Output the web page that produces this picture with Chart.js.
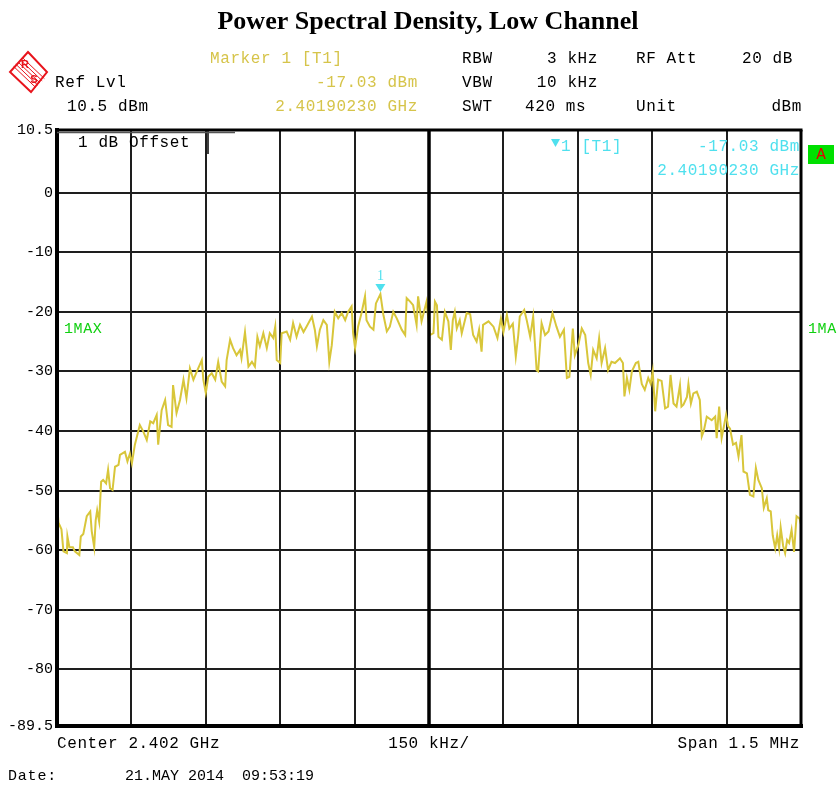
<!DOCTYPE html>
<html>
<head>
<meta charset="utf-8">
<script src="https://cdn.jsdelivr.net/npm/chart.js@4.4.1/dist/chart.umd.min.js"></script>
<style>
  html, body { margin: 0; padding: 0; background: #ffffff; }
  #wrap { width: 837px; height: 787px; position: relative; }
  canvas { display: block; }
</style>
</head>
<body>
<div id="wrap"><canvas id="c" width="837" height="787"></canvas></div>
<script>
// ---- data ----
// frequency offset from centre (kHz), span 1.5 MHz
const freqKHz = [
  -750,-747,-741,-737,-730,-729,-725,-718,-714,-705,-702,-697,-690,-683,-680,-675,-672,-669,-665,-661,
  -657,-651,-647,-643,-638,-633,-626,-623,-613,-608,-603,-599,-593,-583,-576,-569,-562,-556,-549,-546,
  -539,-532,-526,-519,-516,-509,-502,-495,-489,-482,-475,-468,-458,-455,-450,-445,-438,-431,-425,-418,
  -411,-408,-401,-395,-388,-381,-378,-371,-364,-357,-351,-346,-341,-334,-327,-321,-314,-310,-307,-300,
  -297,-287,-280,-274,-267,-260,-253,-247,-236,-230,-226,-220,-213,-206,-201,-196,-190,-183,-176,-169,
  -163,-156,-153,-149,-143,-136,-129,-126,-119,-112,-107,-98,-92,-85,-79,-72,-65,-55,-48,-45,
  -38,-32,-25,-22,-15,-5,2,9,12,16,19,26,32,39,44,48,52,56,62,66,
  76,83,89,96,101,106,109,120,130,138,145,150,157,162,169,175,180,183,192,197,
  204,210,217,220,227,234,241,249,257,264,272,278,283,290,294,301,308,315,321,326,
  331,338,343,348,355,361,368,375,385,391,394,399,404,409,417,422,429,435,442,447,
  451,456,462,469,476,482,487,493,499,506,509,513,520,523,528,533,540,546,550,554,
  560,570,577,580,585,590,599,603,607,613,619,624,630,634,641,647,654,659,664,671,
  675,681,684,689,693,698,702,706,709,714,718,722,726,731,736,741,747,750
];
// trace level (dBm), 1MAX trace
const levelDBm = [
  -52,-55.4,-56.5,-60.2,-60.5,-57.7,-59.5,-59.5,-60.2,-60.8,-57.7,-57.3,-54.3,-53.5,-56.8,-59.5,-55,-53.3,-55.2,-48.5,
  -48.2,-48.8,-46.5,-49.6,-49.9,-46,-45.7,-44,-43.5,-45.1,-43.8,-45.4,-42.3,-39,-40.1,-41.5,-38.4,-38.7,-37.3,-42.3,
  -36.5,-34.8,-39,-39.3,-32.3,-37,-34.8,-31.4,-34.5,-29.5,-31.4,-30,-28.1,-31.4,-33.6,-30.9,-30.3,-31.4,-28.4,-31.7,
  -32.5,-28.1,-24.7,-26.1,-27.3,-26.4,-27.8,-23.4,-29.2,-28.4,-29.2,-24.2,-25.8,-23.6,-26.1,-23.6,-24.4,-22.5,-28.1,-28.6,
  -23.6,-23.3,-24.7,-21.9,-24.2,-22.2,-23.4,-22.5,-20.8,-23.1,-25.8,-23,-21.4,-22.2,-28.4,-25.6,-20,-21.1,-20.2,-21.4,
  -20,-19.1,-23.6,-26.1,-22.5,-20.2,-17.4,-21.4,-22.5,-23,-18.6,-17.03,-20.5,-23.3,-22.5,-20,-21.1,-23,-23.9,-17.7,
  -18.3,-18.9,-22.2,-17.4,-21.6,-18.3,-23.9,-23.6,-18.3,-18.9,-24.2,-24.7,-20,-21.6,-26.4,-21.4,-20,-22.8,-21.4,-23.6,
  -20.2,-20.4,-23.9,-25,-23,-26.7,-22.2,-21.6,-22.5,-24.4,-21.1,-23.4,-20.5,-22.8,-22,-27.5,-23.9,-20.8,-19.7,-21.4,
  -24.2,-20.8,-29.8,-30,-21.9,-23.9,-23.3,-20.2,-22.5,-24.2,-23,-31.1,-30.9,-22.8,-27.3,-25.6,-22.8,-23.9,-28.6,-30.6,
  -26.4,-27.8,-24.4,-28.6,-26.1,-29.8,-28.4,-28.6,-27.8,-28.6,-34.2,-31.1,-33.1,-30,-28.6,-28.4,-32.1,-33.1,-31.1,-32.1,
  -30,-36.7,-31.4,-31.6,-36.2,-35.9,-30.6,-35.4,-35.9,-32.3,-35.9,-35.6,-34.3,-32.1,-35.4,-33.7,-33.4,-34.8,-40.9,-40,
  -37.6,-38.2,-37.6,-41.2,-35.9,-41.2,-37.3,-39.2,-39.6,-42.3,-42,-44.3,-40.7,-46.8,-47.1,-50.7,-51,-46.2,-48.2,-49.6,
  -52.9,-51.3,-53.3,-53.5,-57.5,-59.7,-57.5,-59.7,-56.2,-59.3,-60.5,-58.3,-58.8,-56.6,-60.3,-54.3,-54.7,-55.7
];
const yTickValues = [10.5, 0, -10, -20, -30, -40, -50, -60, -70, -80, -89.5];
const xTickValues = [-750, -600, -450, -300, -150, 0, 150, 300, 450, 600, 750];
const markerFreqKHz = -98;      // 2.40190230 GHz
const markerLevel = -17.03;     // dBm

const MONO = "'Liberation Mono', 'DejaVu Sans Mono', monospace";
const YELLOW = '#d6c44a';
const CYAN = '#4fe0ee';
const GREEN = '#10d010';

function txt(ctx, s, x, y, align, color, size, spacing) {
  ctx.save();
  ctx.font = (size || 16) + 'px ' + MONO;
  ctx.letterSpacing = (spacing === undefined ? 0.6 : spacing) + 'px';
  ctx.fillStyle = color || '#000';
  ctx.textAlign = align || 'left';
  ctx.textBaseline = 'middle';
  ctx.fillText(s, x, y);
  ctx.restore();
}

const decorPlugin = {
  id: 'decor',
  afterDatasetsDraw(chart) {
    const ctx = chart.ctx;
    const a = chart.chartArea;
    const xs = chart.scales.x, ys = chart.scales.y;
    ctx.save();
    // centre line (thick)
    ctx.strokeStyle = '#000';
    ctx.lineWidth = 3.5;
    const cx = xs.getPixelForValue(0);
    ctx.beginPath(); ctx.moveTo(cx, a.top); ctx.lineTo(cx, a.bottom); ctx.stroke();
    // borders
    ctx.lineWidth = 4;
    ctx.beginPath(); ctx.moveTo(a.left, a.top - 2); ctx.lineTo(a.left, a.bottom + 2); ctx.stroke();
    ctx.beginPath(); ctx.moveTo(a.left - 2, a.bottom); ctx.lineTo(a.right + 2, a.bottom); ctx.stroke();
    ctx.lineWidth = 3;
    ctx.beginPath(); ctx.moveTo(a.left, a.top); ctx.lineTo(a.right + 1.5, a.top); ctx.stroke();
    ctx.beginPath(); ctx.moveTo(a.right, a.top); ctx.lineTo(a.right, a.bottom); ctx.stroke();
    // "1 dB Offset" box edge
    ctx.lineWidth = 1.5;
    ctx.strokeStyle = '#000';
    ctx.beginPath(); ctx.moveTo(208, a.top); ctx.lineTo(208, a.top + 24); ctx.stroke();
    ctx.strokeStyle = '#555';
    ctx.lineWidth = 1.5;
    ctx.beginPath(); ctx.moveTo(a.left, a.top + 2.5); ctx.lineTo(235, a.top + 2.5); ctx.stroke();
    ctx.restore();

    // marker triangle + label
    const mx = xs.getPixelForValue(markerFreqKHz);
    const my = ys.getPixelForValue(markerLevel);
    ctx.save();
    ctx.fillStyle = CYAN;
    ctx.beginPath();
    ctx.moveTo(mx - 5, my - 10); ctx.lineTo(mx + 5, my - 10); ctx.lineTo(mx, my - 2); ctx.closePath();
    ctx.fill();
    ctx.font = "14px 'Liberation Serif', serif";
    ctx.textAlign = 'center'; ctx.textBaseline = 'middle';
    ctx.fillText('1', mx, my - 18);
    ctx.restore();

    // in-plot texts
    txt(ctx, '1 dB Offset', 78, 143, 'left', '#000', 16);
    ctx.save();
    ctx.fillStyle = CYAN;
    ctx.beginPath(); ctx.moveTo(551, 139); ctx.lineTo(560, 139); ctx.lineTo(555.5, 147); ctx.closePath(); ctx.fill();
    ctx.restore();
    txt(ctx, '1 [T1]', 561, 147, 'left', CYAN, 16);
    txt(ctx, '-17.03 dBm', 800, 147, 'right', CYAN, 16);
    txt(ctx, '2.40190230 GHz', 800, 171, 'right', CYAN, 16);
    txt(ctx, '1MAX', 64, 329, 'left', GREEN, 15);
  },
  afterDraw(chart) {
    const ctx = chart.ctx;
    // title
    ctx.save();
    ctx.font = "bold 26px 'Liberation Serif', 'Times New Roman', serif";
    ctx.fillStyle = '#000';
    ctx.textAlign = 'center'; ctx.textBaseline = 'middle';
    ctx.fillText('Power Spectral Density, Low Channel', 428, 22);
    ctx.restore();

    // header
    txt(ctx, 'Marker 1 [T1]', 210, 59, 'left', YELLOW);
    txt(ctx, 'Ref Lvl', 55, 83, 'left', '#000');
    txt(ctx, '-17.03 dBm', 418, 83, 'right', YELLOW);
    txt(ctx, '10.5 dBm', 67, 107, 'left', '#000');
    txt(ctx, '2.40190230 GHz', 418, 107, 'right', YELLOW);
    txt(ctx, 'RBW', 462, 59, 'left', '#000');
    txt(ctx, '3 kHz', 598, 59, 'right', '#000');
    txt(ctx, 'RF Att', 636, 59, 'left', '#000');
    txt(ctx, '20 dB', 793, 59, 'right', '#000');
    txt(ctx, 'VBW', 462, 83, 'left', '#000');
    txt(ctx, '10 kHz', 598, 83, 'right', '#000');
    txt(ctx, 'SWT', 462, 107, 'left', '#000');
    txt(ctx, '420 ms', 525, 107, 'left', '#000');
    txt(ctx, 'Unit', 636, 107, 'left', '#000');
    txt(ctx, 'dBm', 802, 107, 'right', '#000');

    // right side trace label + "A" box
    txt(ctx, '1MA', 808, 329, 'left', GREEN, 15);
    ctx.save();
    ctx.fillStyle = '#00e000';
    ctx.fillRect(808, 145, 26, 19);
    ctx.restore();
    txt(ctx, 'A', 821, 155, 'center', '#e00000', 16, 0);

    // bottom
    txt(ctx, 'Center 2.402 GHz', 57, 744, 'left', '#000');
    txt(ctx, '150 kHz/', 429, 744, 'center', '#000');
    txt(ctx, 'Span 1.5 MHz', 800, 744, 'right', '#000');
    txt(ctx, 'Date:', 8, 776, 'left', '#000', 15, 0.8);
    txt(ctx, '21.MAY 2014  09:53:19', 125, 776, 'left', '#000', 15, 0);

    // R&S logo
    ctx.save();
    ctx.strokeStyle = '#e8141c';
    ctx.fillStyle = '#e8141c';
    ctx.lineWidth = 2;
    ctx.beginPath();
    ctx.moveTo(28, 52); ctx.lineTo(47, 72); ctx.lineTo(31, 92); ctx.lineTo(10, 72); ctx.closePath();
    ctx.stroke();
    ctx.lineWidth = 1;
    for (let k = -2; k <= 2; k++) {
      const o = k * 2.2;
      ctx.beginPath(); ctx.moveTo(18 + o, 62 - o); ctx.lineTo(40 + o, 83 - o); ctx.stroke();
    }
    ctx.font = "bold 11px 'Liberation Sans', sans-serif";
    ctx.textAlign = 'center'; ctx.textBaseline = 'middle';
    ctx.fillText('R', 25, 65);
    ctx.fillText('S', 34, 80);
    ctx.restore();
  }
};

const ctx = document.getElementById('c').getContext('2d');
new Chart(ctx, {
  type: 'line',
  data: {
    datasets: [{
      label: '1MAX',
      data: freqKHz.map((f, i) => ({ x: f, y: levelDBm[i] })),
      borderColor: '#d8c63a',
      borderWidth: 2,
      pointRadius: 0,
      tension: 0,
      fill: false
    }]
  },
  options: {
    responsive: false,
    devicePixelRatio: 1,
    animation: false,
    layout: { padding: { left: 0, top: 130, right: 36, bottom: 61 } },
    plugins: { legend: { display: false }, tooltip: { enabled: false }, title: { display: false } },
    scales: {
      x: {
        type: 'linear', min: -750, max: 750,
        afterBuildTicks: s => { s.ticks = xTickValues.map(v => ({ value: v })); },
        afterFit: s => { s.height = 0; },
        ticks: { display: false },
        border: { display: false },
        grid: {
          drawTicks: false,
          color: c => (c.tick && (c.tick.value === -750 || c.tick.value === 750)) ? 'rgba(0,0,0,0)' : '#1e1e1e',
          lineWidth: 2
        }
      },
      y: {
        type: 'linear', min: -89.5, max: 10.5,
        afterBuildTicks: s => { s.ticks = yTickValues.map(v => ({ value: v })); },
        afterFit: s => { s.width = 57; },
        ticks: {
          color: '#000',
          padding: 4,
          font: { family: MONO, size: 15 },
          callback: v => String(v)
        },
        border: { display: false },
        grid: {
          drawTicks: false,
          color: c => (c.tick && (c.tick.value === 10.5 || c.tick.value === -89.5)) ? 'rgba(0,0,0,0)' : '#1e1e1e',
          lineWidth: 2
        }
      }
    }
  },
  plugins: [decorPlugin]
});
</script>
</body>
</html>
